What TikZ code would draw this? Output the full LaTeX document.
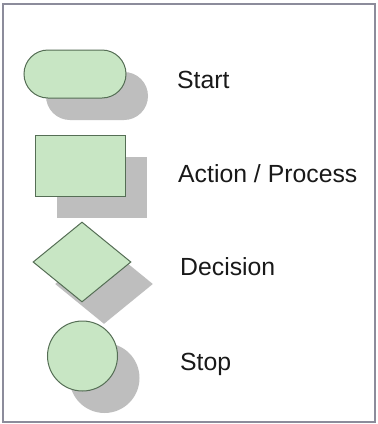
\documentclass[tikz,border=0pt]{standalone}
\usepackage{fontspec}
\setmainfont{Liberation Sans}
\usetikzlibrary{shapes.geometric,shadows}
\definecolor{shapefill}{RGB}{200,230,196}
\definecolor{shapeline}{RGB}{85,110,85}
\definecolor{shadowgray}{RGB}{190,190,190}
\definecolor{framegray}{RGB}{140,140,155}
\tikzset{
  shp/.style={fill=shapefill, draw=shapeline, line width=1pt, inner sep=0pt,
    drop shadow={shadow xshift=22pt, shadow yshift=-22pt, fill=shadowgray, opacity=1}},
  lbl/.style={anchor=base west, font=\fontsize{24.8}{28}\selectfont, text=black!90, inner sep=0pt}
}
\begin{document}
\begin{tikzpicture}[x=1pt,y=-1pt]
\useasboundingbox (0,0) rectangle (378,424);
\fill[white] (0,0) rectangle (378,424);
\draw[framegray, line width=2pt] (3,3.5) rectangle (374.5,421.5);
\node[shp, rectangle, rounded corners=24pt, minimum width=102pt, minimum height=48pt] (start) at (75,74) {};
\node[shp, rectangle, minimum width=90pt, minimum height=61pt] (action) at (80,165.5) {};
\node[shp, diamond, minimum width=98pt, minimum height=80pt] (decision) at (82,262) {};
\node[shp, circle, minimum size=70pt] (stop) at (82.5,356) {};
\node[lbl] (tstart) at (177,88) {Start};
\node[lbl] (taction) at (178,182) {Action / Process};
\node[lbl] (tdecision) at (180,275) {Decision};
\node[lbl] (tstop) at (180,370) {Stop};
\end{tikzpicture}
\end{document}
